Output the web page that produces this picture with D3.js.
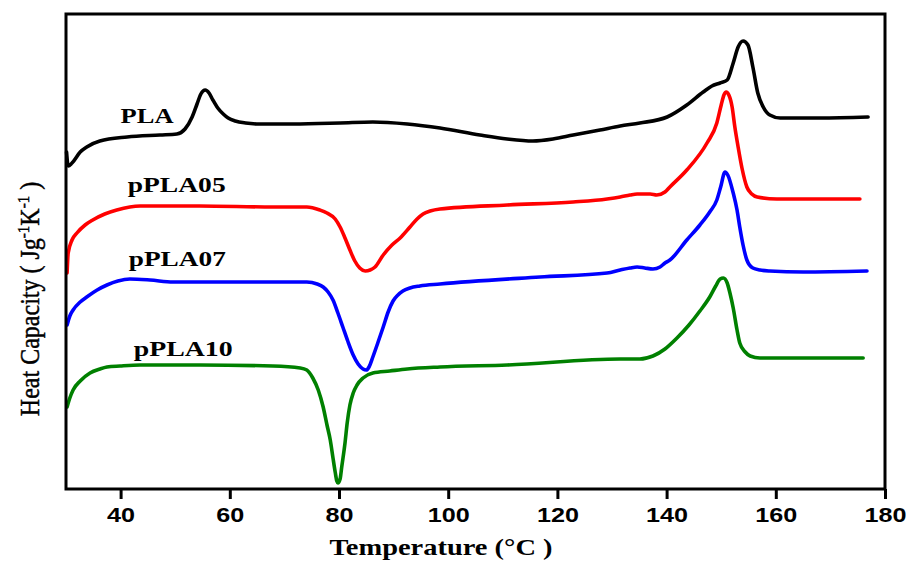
<!DOCTYPE html>
<html>
<head>
<meta charset="utf-8">
<script src="https://cdn.jsdelivr.net/npm/d3@7/dist/d3.min.js"></script>
<style>
  html, body { margin: 0; padding: 0; background: #fff; }
  svg { display: block; }
</style>
</head>
<body>
<svg id="chart" width="906" height="562"></svg>
<script>
// ---------- DATA (temperature in °C, heat capacity in arbitrary offset units) ----------
const xTicks = [40, 60, 80, 100, 120, 140, 160, 180];
const seriesNames = ["PLA", "pPLA05", "pPLA07", "pPLA10"];
const seriesColors = ["#000000", "#ff0000", "#0000ff", "#008000"];

const plaT = [30.1, 30.4, 31.1, 32.6, 33.8, 36.2, 41.2, 47.2, 50.3, 51.8, 53.1, 54.0, 54.7, 55.5, 56.2, 56.9, 57.8, 58.8, 59.7, 61.0, 62.9, 65.5, 71.6, 80.2, 86.2, 92.5, 98.5, 105.8, 110.8, 115.5, 119.2, 122.9, 127.8, 131.5, 135.1, 140.1, 143.7, 146.7, 148.3, 149.8, 151.1, 152.2, 153.1, 154.0, 154.9, 155.8, 156.7, 157.7, 158.9, 160.8, 168.1, 176.9];
const plaY = [33.7, 32.3, 32.6, 33.7, 34.2, 34.8, 35.2, 35.4, 35.5, 36.0, 37.2, 38.5, 39.5, 39.9, 39.6, 38.9, 38.1, 37.5, 37.1, 36.8, 36.6, 36.5, 36.5, 36.6, 36.7, 36.5, 36.1, 35.4, 35.0, 34.8, 35.0, 35.4, 35.9, 36.3, 36.6, 37.2, 38.4, 39.7, 40.3, 40.6, 40.9, 42.6, 44.2, 44.8, 44.4, 42.2, 39.6, 38.2, 37.4, 37.1, 37.1, 37.2];

const p05T = [30.2, 30.4, 31.1, 32.0, 33.5, 34.9, 37.1, 39.3, 43.6, 54.5, 67.9, 74.1, 76.5, 77.8, 79.3, 80.2, 81.1, 82.0, 82.9, 83.8, 84.8, 85.7, 86.6, 88.1, 89.7, 91.2, 93.0, 94.3, 95.4, 96.7, 98.5, 110.8, 122.9, 129.1, 131.5, 133.3, 134.6, 137.0, 138.2, 139.7, 140.6, 143.7, 147.4, 149.2, 150.0, 150.5, 150.9, 151.4, 152.0, 152.5, 153.1, 153.8, 154.7, 155.6, 156.6, 160.2, 175.4];
const p05Y = [21.6, 23.6, 24.9, 25.6, 26.4, 26.9, 27.5, 27.9, 28.3, 28.3, 28.2, 28.2, 27.9, 27.6, 27.0, 26.2, 25.1, 23.9, 22.8, 22.1, 21.8, 21.9, 22.2, 23.4, 24.4, 25.1, 26.2, 27.0, 27.5, 27.8, 28.0, 28.4, 28.7, 29.0, 29.2, 29.4, 29.5, 29.5, 29.4, 29.7, 30.2, 31.9, 34.6, 36.6, 38.4, 39.4, 39.7, 39.4, 38.2, 36.2, 34.2, 32.1, 30.2, 29.5, 29.2, 29.0, 29.0];

const p07T = [30.2, 30.7, 31.3, 32.6, 33.8, 35.7, 37.5, 39.5, 41.7, 45.4, 49.6, 63.7, 74.1, 76.0, 77.1, 78.0, 78.9, 79.8, 80.7, 81.6, 82.6, 83.5, 84.4, 85.0, 85.5, 86.2, 87.1, 88.1, 89.0, 89.9, 90.8, 91.7, 93.0, 94.8, 98.5, 116.8, 129.1, 131.5, 133.3, 134.6, 136.0, 137.5, 138.8, 139.7, 140.6, 143.7, 146.1, 147.9, 149.2, 149.9, 150.7, 151.2, 152.2, 152.9, 153.4, 154.0, 154.7, 155.8, 157.1, 158.9, 165.0, 176.7];
const p07Y = [16.4, 17.3, 17.9, 18.7, 19.2, 19.9, 20.4, 20.8, 21.0, 20.9, 20.7, 20.7, 20.7, 20.5, 20.2, 19.7, 18.9, 17.6, 16.2, 14.8, 13.4, 12.5, 12.0, 11.9, 12.2, 13.2, 14.6, 16.2, 17.7, 18.8, 19.4, 19.8, 20.1, 20.3, 20.5, 21.2, 21.6, 21.9, 22.1, 22.2, 22.1, 22.0, 22.2, 22.6, 22.9, 24.9, 26.4, 27.7, 28.9, 30.2, 31.7, 31.4, 29.6, 27.9, 26.2, 24.4, 22.9, 22.1, 21.9, 21.8, 21.7, 21.8];

const p10T = [30.2, 30.7, 31.3, 32.6, 34.4, 36.2, 37.5, 39.9, 43.6, 54.5, 67.9, 72.9, 74.1, 75.2, 76.2, 77.1, 77.8, 78.4, 78.9, 79.3, 79.6, 79.8, 80.2, 80.5, 81.1, 81.5, 82.0, 82.6, 83.3, 84.4, 86.2, 89.3, 92.5, 98.5, 110.8, 131.5, 135.1, 137.5, 139.7, 141.9, 144.1, 146.1, 147.9, 149.0, 149.8, 150.4, 151.1, 151.6, 152.2, 152.9, 153.4, 154.4, 155.3, 157.1, 176.0];
const p10Y = [8.2, 9.1, 9.9, 10.8, 11.6, 12.0, 12.2, 12.3, 12.4, 12.4, 12.3, 12.1, 11.9, 11.1, 9.9, 8.2, 6.4, 4.9, 3.1, 1.7, 0.8, 0.6, 1.0, 2.2, 4.6, 6.6, 8.4, 9.6, 10.4, 11.1, 11.6, 11.8, 12.0, 12.2, 12.4, 13.0, 13.0, 13.3, 14.0, 15.1, 16.4, 17.8, 19.2, 20.3, 21.0, 21.1, 20.6, 19.6, 18.1, 15.9, 14.6, 13.7, 13.3, 13.1, 13.1];

// ---------- LAYOUT ----------
const plot = { left: 66, right: 885, top: 14, bottom: 489 };

const svg = d3.select("#chart");
const x = d3.scaleLinear().domain([30, 180]).range([plot.left, plot.right]);
const y = d3.scaleLinear().domain([0, 47.5]).range([plot.bottom, plot.top]);

const series = [
  { name: seriesNames[0], color: seriesColors[0], T: plaT, V: plaY },
  { name: seriesNames[1], color: seriesColors[1], T: p05T, V: p05Y },
  { name: seriesNames[2], color: seriesColors[2], T: p07T, V: p07Y },
  { name: seriesNames[3], color: seriesColors[3], T: p10T, V: p10Y }
];

const line = d3.line()
  .x(d => x(d[0]))
  .y(d => y(d[1]))
  .curve(d3.curveMonotoneX);

svg.append("g").selectAll("path")
  .data(series)
  .join("path")
  .attr("d", s => line(s.T.map((t, i) => [t, s.V[i]])))
  .attr("fill", "none")
  .attr("stroke", s => s.color)
  .attr("stroke-width", 3.6)
  .attr("stroke-linejoin", "round")
  .attr("stroke-linecap", "round");

// frame
svg.append("rect")
  .attr("x", plot.left).attr("y", plot.top)
  .attr("width", plot.right - plot.left)
  .attr("height", plot.bottom - plot.top)
  .attr("fill", "none")
  .attr("stroke", "#000")
  .attr("stroke-width", 3);

// bottom axis
const xAxis = d3.axisBottom(x).tickValues(xTicks).tickSize(10).tickPadding(8).tickFormat(d3.format("d"));
const gx = svg.append("g").attr("transform", `translate(0,${plot.bottom})`).call(xAxis);
gx.select(".domain").remove();
gx.selectAll(".tick line").attr("stroke", "#000").attr("stroke-width", 3);
gx.selectAll(".tick text")
  .attr("fill", "#000")
  .attr("dy", null)
  .attr("y", 33)
  .style("font-family", "'Liberation Sans', Arial, sans-serif")
  .style("font-weight", "bold")
  .style("font-size", "21px")
  .attr("textLength", d => String(d).length * 14)
  .attr("lengthAdjust", "spacingAndGlyphs");

// x title
svg.append("text")
  .attr("x", 441).attr("y", 555)
  .attr("text-anchor", "middle")
  .attr("textLength", 223)
  .attr("lengthAdjust", "spacingAndGlyphs")
  .style("font-family", "'Liberation Serif', 'Times New Roman', serif")
  .style("font-weight", "bold")
  .style("font-size", "24px")
  .text("Temperature (°C )");

// y title
const yt = svg.append("text")
  .attr("transform", "translate(39,299) scale(1.15,1) rotate(-90)")
  .attr("text-anchor", "middle")
  .style("font-family", "'Liberation Serif', 'Times New Roman', serif")
  .style("font-size", "24px")
  .style("stroke", "#000")
  .style("stroke-width", "0.4px");
yt.append("tspan").text("Heat Capacity ( Jg");
yt.append("tspan").attr("dy", -9).style("font-size", "15px").text("-1");
yt.append("tspan").attr("dy", 9).text("K");
yt.append("tspan").attr("dy", -9).style("font-size", "15px").text("-1");
yt.append("tspan").attr("dy", 9).text(" )");

// series labels (anchored in data coordinates)
const labelAnchors = [
  { T: 40.0, V: 36.6, w: 53 },
  { T: 41.3, V: 29.7, w: 98 },
  { T: 41.5, V: 22.3, w: 97 },
  { T: 42.4, V: 13.3, w: 99 }
];
svg.append("g").selectAll("text")
  .data(series)
  .join("text")
  .attr("x", (s, i) => x(labelAnchors[i].T))
  .attr("y", (s, i) => y(labelAnchors[i].V))
  .attr("textLength", (s, i) => labelAnchors[i].w)
  .attr("lengthAdjust", "spacingAndGlyphs")
  .style("font-family", "'Liberation Serif', 'Times New Roman', serif")
  .style("font-weight", "bold")
  .style("font-size", "22px")
  .attr("fill", "#000")
  .text(s => s.name);
</script>
</body>
</html>
